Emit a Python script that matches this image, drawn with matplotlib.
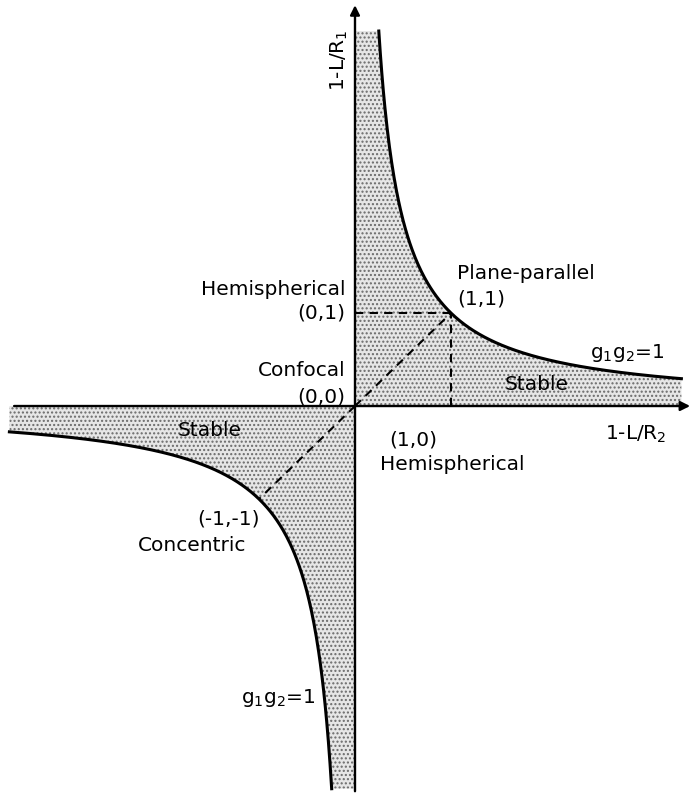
import numpy as np
import matplotlib.pyplot as plt

# Stability diagram of an optical resonator: g1*g2 = 1 boundary
q1_x = np.linspace(0.248, 3.40, 400)          # g2 > 0 branch
q3_x = np.linspace(-3.60, -0.243, 400)        # g2 < 0 branch

plt.rcParams['font.family'] = ['DejaVu Sans']
plt.rcParams['hatch.color'] = '#5e5e5e'
plt.rcParams['hatch.linewidth'] = 1.0

fig = plt.figure(figsize=(6.93, 7.94), dpi=100)
ax = fig.add_axes([0, 0, 1, 1])
ax.set_xlim(-3.698, 3.521)
ax.set_ylim(-4.172, 4.366)
ax.axis('off')

# stable regions (stippled)
ax.fill_between(np.concatenate([[0.0], q1_x]), 0, np.concatenate([[1 / q1_x[0]], 1 / q1_x]),
                facecolor='#e6e6e6', edgecolor='#6a6a6a', hatch='....', linewidth=0, zorder=1)
ax.fill_between(np.concatenate([q3_x, [0.0]]), np.concatenate([1 / q3_x, [1 / q3_x[-1]]]), 0,
                facecolor='#e6e6e6', edgecolor='#6a6a6a', hatch='....', linewidth=0, zorder=1)

# boundary hyperbola
ax.plot(q1_x, 1 / q1_x, color='black', lw=2.2, zorder=3)
ax.plot(q3_x, 1 / q3_x, color='black', lw=2.2, zorder=3)

# coordinate axes with arrows
ax.annotate('', xy=(3.52, 0), xytext=(-3.58, 0),
            arrowprops=dict(arrowstyle='-|>', color='black', lw=1.7, mutation_scale=14), zorder=4)
ax.annotate('', xy=(0, 4.34), xytext=(0, -4.172),
            arrowprops=dict(arrowstyle='-|>', color='black', lw=1.7, mutation_scale=14), zorder=4)

# dashed guides
dash = dict(color='black', lw=1.5, ls=(0, (4, 3)), zorder=2)
ax.plot([0, 1], [1, 1], **dash)
ax.plot([1, 1], [0, 1], **dash)
ax.plot([0, 1], [0, 1], **dash)
ax.plot([0, -1], [0, -1], **dash)

txt = dict(fontsize=14.5, color='black')
ax.text(-0.10, 1.25, 'Hemispherical', ha='right', va='center', **txt)
ax.text(-0.10, 1.0, '(0,1)', ha='right', va='center', **txt)
ax.text(-0.10, 0.38, 'Confocal', ha='right', va='center', **txt)
ax.text(-0.10, 0.10, '(0,0)', ha='right', va='center', **txt)
ax.text(1.06, 1.42, 'Plane-parallel', ha='left', va='center', **txt)
ax.text(1.06, 1.15, '(1,1)', ha='left', va='center', **txt)
ax.text(2.45, 0.57, r'g$_1$g$_2$=1', ha='left', va='center', **txt)
ax.text(1.56, 0.23, 'Stable', ha='left', va='center', **txt)
ax.text(-1.85, -0.26, 'Stable', ha='left', va='center', **txt)
ax.text(0.36, -0.37, '(1,0)', ha='left', va='center', **txt)
ax.text(0.26, -0.63, 'Hemispherical', ha='left', va='center', **txt)
ax.text(-1.64, -1.21, '(-1,-1)', ha='left', va='center', **txt)
ax.text(-2.26, -1.50, 'Concentric', ha='left', va='center', **txt)
ax.text(-1.19, -3.14, r'g$_1$g$_2$=1', ha='left', va='center', **txt)
ax.text(2.60, -0.30, r'1-L/R$_2$', ha='left', va='center', **txt)
ax.text(-0.16, 3.72, r'1-L/R$_1$', ha='center', va='center', rotation=90, **txt)

fig.savefig('out.png', dpi=100)
